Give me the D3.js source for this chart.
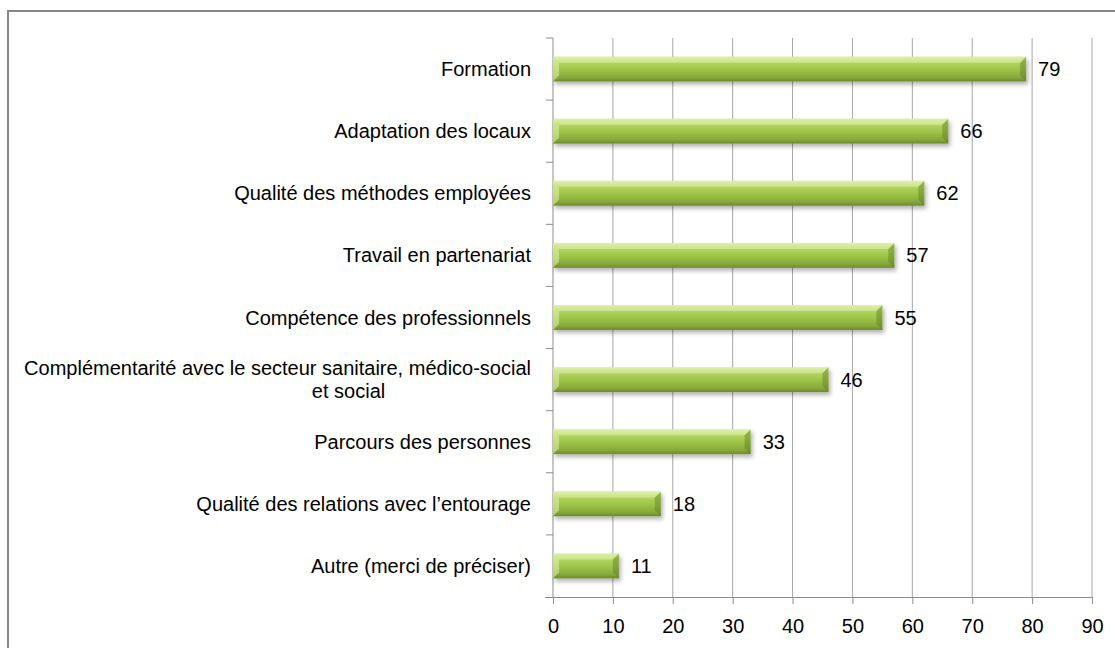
<!DOCTYPE html>
<html>
<head>
<meta charset="utf-8">
<script src="https://cdn.jsdelivr.net/npm/d3@7/dist/d3.min.js"></script>
<style>
  body { margin: 0; background: #fff; }
  svg { display: block; font-family: 'Liberation Sans', Arial, sans-serif; }
</style>
</head>
<body>
<div id="chart"></div>
<script>
// data, top to bottom
const categories = [
  'Formation',
  'Adaptation des locaux',
  'Qualité des méthodes employées',
  'Travail en partenariat',
  'Compétence des professionnels',
  'Complémentarité avec le secteur sanitaire, médico-social|et social',
  'Parcours des personnes',
  'Qualité des relations avec l\u2019entourage',
  'Autre (merci de préciser)'
];
const values = [79, 66, 62, 57, 55, 46, 33, 18, 11];
const xTicks = [0, 10, 20, 30, 40, 50, 60, 70, 80, 90];

const width = 1115;
const height = 648;
const margin = { top: 38, right: 25, bottom: 50, left: 553 };
const fontSize = 20;

const svg = d3.select('#chart')
  .append('svg')
  .attr('width', width)
  .attr('height', height);

const defs = svg.append('defs');

// green bevel gradient
const grad = defs.append('linearGradient')
  .attr('id', 'barGrad')
  .attr('x1', 0).attr('y1', 0).attr('x2', 0).attr('y2', 1);
grad.append('stop').attr('offset', '0%').attr('stop-color', '#d2eb8e');
grad.append('stop').attr('offset', '18%').attr('stop-color', '#b5d863');
grad.append('stop').attr('offset', '55%').attr('stop-color', '#9cc246');
grad.append('stop').attr('offset', '85%').attr('stop-color', '#86a83a');
grad.append('stop').attr('offset', '100%').attr('stop-color', '#6b8a2a');

const shadow = defs.append('filter')
  .attr('id', 'shadow')
  .attr('x', '-10%').attr('y', '-30%')
  .attr('width', '130%').attr('height', '190%');
shadow.append('feDropShadow')
  .attr('dx', 2).attr('dy', 3)
  .attr('stdDeviation', 2.2)
  .attr('flood-color', '#000')
  .attr('flood-opacity', 0.3);

// outer frame
svg.append('rect')
  .attr('x', 8).attr('y', 11)
  .attr('width', width + 20).attr('height', height + 20)
  .attr('fill', 'none')
  .attr('stroke', '#868686')
  .attr('stroke-width', 2);

const x = d3.scaleLinear()
  .domain([0, 90])
  .range([margin.left, width - margin.right + 2]);

const y = d3.scaleBand()
  .domain(categories)
  .range([margin.top, height - margin.bottom - 1])
  .paddingInner(0.6)
  .paddingOuter(0.3);

const plotBottom = height - margin.bottom - 1;

// vertical gridlines
svg.append('g')
  .selectAll('line')
  .data(xTicks.slice(1))
  .enter()
  .append('line')
  .attr('x1', d => x(d)).attr('x2', d => x(d))
  .attr('y1', margin.top).attr('y2', plotBottom)
  .attr('stroke', '#a6a6a6')
  .attr('stroke-width', 1);

// x axis
const xAxis = svg.append('g')
  .attr('transform', `translate(0,${plotBottom})`)
  .call(d3.axisBottom(x).tickValues(xTicks).tickSize(7).tickSizeOuter(0).tickPadding(15));
xAxis.select('.domain')
  .attr('d', `M${margin.left - 8},0.5H${x(90)}`)
  .attr('stroke', '#8c8c8c');
xAxis.selectAll('.tick line').attr('stroke', '#8c8c8c');
xAxis.selectAll('.tick text')
  .attr('fill', '#000')
  .style('font-size', `${fontSize}px`)
  .style('font-family', "'Liberation Sans', Arial, sans-serif");

// y axis line with ticks at band boundaries
const yAxis = svg.append('g');
yAxis.append('line')
  .attr('x1', margin.left).attr('x2', margin.left)
  .attr('y1', margin.top).attr('y2', plotBottom)
  .attr('stroke', '#8c8c8c');
const step = y.step();
yAxis.selectAll('.ytick')
  .data(categories)
  .enter()
  .append('line')
  .attr('class', 'ytick')
  .attr('x1', margin.left - 7).attr('x2', margin.left)
  .attr('y1', d => y(d) - step * 0.3)
  .attr('y2', d => y(d) - step * 0.3)
  .attr('stroke', '#8c8c8c');

// bars
const bars = svg.append('g')
  .selectAll('g')
  .data(categories.map((c, i) => ({ cat: c, value: values[i] })))
  .enter()
  .append('g');

bars.append('rect')
  .attr('x', x(0))
  .attr('y', d => y(d.cat))
  .attr('width', d => x(d.value) - x(0))
  .attr('height', y.bandwidth())
  .attr('fill', 'url(#barGrad)')
  .attr('filter', 'url(#shadow)');

// bevel highlights on the bar ends
const bevel = 6;
bars.append('path')
  .attr('d', (d) => {
    const x0 = x(0);
    const y0 = y(d.cat);
    const h = y.bandwidth();
    return `M${x0},${y0}L${x0 + bevel},${y0 + bevel}L${x0 + bevel},${y0 + h - bevel}L${x0},${y0 + h}Z`;
  })
  .attr('fill', '#e2f3b0')
  .attr('opacity', 0.55);
bars.append('path')
  .attr('d', (d) => {
    const x1 = x(d.value);
    const y0 = y(d.cat);
    const h = y.bandwidth();
    return `M${x1},${y0}L${x1 - bevel},${y0 + bevel}L${x1 - bevel},${y0 + h - bevel}L${x1},${y0 + h}Z`;
  })
  .attr('fill', '#5f7d22')
  .attr('opacity', 0.45);
bars.append('path')
  .attr('d', (d) => {
    const x0 = x(0);
    const x1 = x(d.value);
    const y0 = y(d.cat);
    return `M${x0},${y0}L${x1},${y0}L${x1 - bevel},${y0 + bevel}L${x0 + bevel},${y0 + bevel}Z`;
  })
  .attr('fill', '#e8f6bd')
  .attr('opacity', 0.5);

// value labels
bars.append('text')
  .attr('x', d => x(d.value) + 12)
  .attr('y', d => y(d.cat) + y.bandwidth() / 2)
  .attr('dy', '0.35em')
  .style('font-size', `${fontSize}px`)
  .attr('fill', '#000')
  .text(d => d.value);

// category labels, right aligned; wrapped label centred as a block
const labelRight = margin.left - 22;
categories.forEach((c) => {
  const lines = c.split('|');
  const cy = y(c) + y.bandwidth() / 2;
  if (lines.length === 1) {
    svg.append('text')
      .attr('x', labelRight)
      .attr('y', cy)
      .attr('dy', '0.35em')
      .attr('text-anchor', 'end')
      .style('font-size', `${fontSize}px`)
      .text(c);
  } else {
    const lh = 23;
    const first = svg.append('text')
      .attr('x', labelRight)
      .attr('y', cy - lh / 2)
      .attr('dy', '0.35em')
      .attr('text-anchor', 'end')
      .style('font-size', `${fontSize}px`)
      .text(lines[0]);
    const w = first.node().getComputedTextLength();
    svg.append('text')
      .attr('x', labelRight - w / 2 + 71)
      .attr('y', cy + lh / 2)
      .attr('dy', '0.35em')
      .attr('text-anchor', 'middle')
      .style('font-size', `${fontSize}px`)
      .text(lines[1]);
  }
});
</script>
</body>
</html>
